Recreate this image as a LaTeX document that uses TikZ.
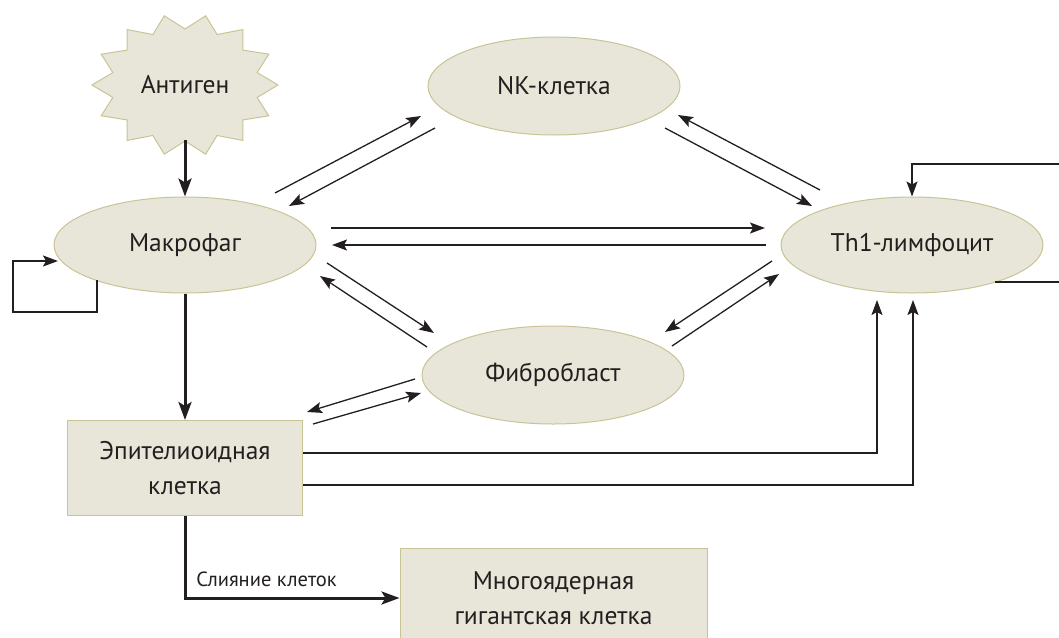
\documentclass[tikz,border=0pt]{standalone}
\usepackage{fontspec}
\setmainfont{PT Sans}
\usepackage{xcolor}
\usepackage{tikz}
\usetikzlibrary{arrows.meta,shapes.geometric}

\definecolor{cellfill}{RGB}{232,230,216}
\definecolor{cellline}{RGB}{200,196,150}
\definecolor{ink}{RGB}{35,31,32}

\begin{document}
\begin{tikzpicture}[x=1pt,y=-1pt,>={Stealth[length=15pt,width=11pt,inset=3pt]},
 cell/.style={ellipse,draw=cellline,fill=cellfill,line width=1pt,inner sep=0pt,
 minimum width=262pt,minimum height=96pt,font=\fontsize{25.5}{36}\selectfont,text=ink},
 cellbox/.style={rectangle,draw=cellline,fill=cellfill,line width=1pt,align=center,
 font=\fontsize{25.5}{35.5}\selectfont,text=ink},
 link/.style={->,draw=ink,line width=1.3pt},
 mainlink/.style={-{Stealth[length=18pt,width=13pt,inset=4pt]},draw=ink,line width=3pt},
 lbl/.style={font=\fontsize{20.5}{22}\selectfont,text=ink}]
 \useasboundingbox (0,0) rectangle (1059,637);
 \clip (0,0) rectangle (1059,637);
 % antigen star
 \draw[cellline,fill=cellfill,line width=1pt,shift={(185,85)}]
  (0:93 and 71) \foreach \k in {1,...,27} {
   -- ({\k*180/14}:{ifthenelse(mod(\k,2)==0,93,74)} and {ifthenelse(mod(\k,2)==0,71,56)})
  } -- cycle;
 \node[font=\fontsize{25.5}{36}\selectfont,text=ink] (ant) at (185,85) {Антиген};
 % cells
 \node[cell] (mak) at (185,245) {Макрофаг};
 \node[cell,minimum width=252pt,minimum height=98pt] (nk) at (554,86) {NK-клетка};
 \node[cell] (th) at (912,245) {Th1-лимфоцит};
 \node[cell,minimum height=98pt] (fib) at (553,375) {Фибробласт};
 \node[cellbox,minimum width=235pt,minimum height=95pt] (epi) at (185,468) {Эпителиоидная\\клетка};
 \node[cellbox,minimum width=307pt,minimum height=100pt] (giant) at (553.5,598) {Многоядерная\\гигантская клетка};
 % main path
 \draw[mainlink] ([shift={(0,55)}]ant.center) -- (mak.north);
 \draw[mainlink] (mak.south) -- (epi.north);
 \draw[mainlink] (epi.south) |- node[lbl,pos=0.69,above=6pt] {Слияние клеток} (giant.west);
 % self loops
 \draw[link] ([shift={(-88,35)}]mak.center) |- ++(-84,32) |- ([shift={(-127,16)}]mak.center);
 \draw[link] ([shift={(83,37)}]th.center) -- ++(80,0) |- ([shift={(0,-81)}]th.center) -- (th.north);
 % macrophage <-> NK
 \draw[link] ([shift={(90,-52)}]mak.center) -- ([shift={(-133,30)}]nk.center);
 \draw[link] ([shift={(-119,42)}]nk.center) -- ([shift={(104,-39)}]mak.center);
 % NK <-> Th1
 \draw[link] ([shift={(-92,-55)}]th.center) -- ([shift={(124,29)}]nk.center);
 \draw[link] ([shift={(111,42)}]nk.center) -- ([shift={(-100,-39)}]th.center);
 % macrophage <-> Th1
 \draw[link] ([shift={(146,-17)}]mak.center) -- ([shift={(-147,-17)}]th.center);
 \draw[link] ([shift={(-146,0)}]th.center) -- ([shift={(147,0)}]mak.center);
 % macrophage <-> fibroblast
 \draw[link] ([shift={(142,18)}]mak.center) -- ([shift={(-119,-42)}]fib.center);
 \draw[link] ([shift={(-126,-28)}]fib.center) -- ([shift={(135,31)}]mak.center);
 % Th1 <-> fibroblast
 \draw[link] ([shift={(-140,16)}]th.center) -- ([shift={(112,-43)}]fib.center);
 \draw[link] ([shift={(119,-29)}]fib.center) -- ([shift={(-133,29)}]th.center);
 % epithelioid <-> fibroblast
 \draw[link] ([shift={(-138,4)}]fib.center) -- ([shift={(122,-56)}]epi.center);
 \draw[link] ([shift={(128,-44)}]epi.center) -- ([shift={(-132,18)}]fib.center);
 % epithelioid -> Th1
 \draw[link] ([shift={(0,-15)}]epi.east) -| ([shift={(-35,55)}]th.center);
 \draw[link] ([shift={(0,17)}]epi.east) -| ([shift={(1,55)}]th.center);
\end{tikzpicture}
\end{document}
